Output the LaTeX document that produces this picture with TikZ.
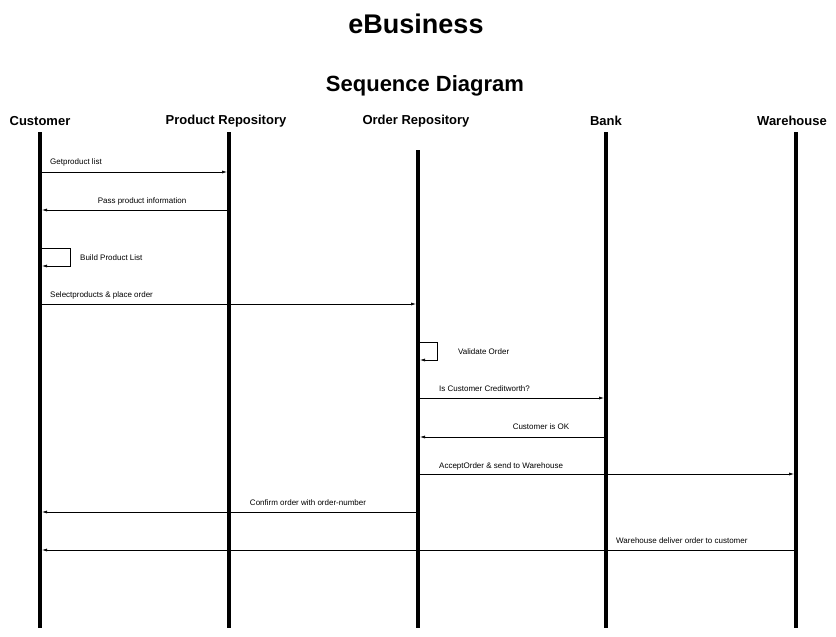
\documentclass[tikz,border=0pt]{standalone}
\usepackage{fontspec}
\setmainfont{Liberation Sans}
\usetikzlibrary{arrows.meta,positioning}
\begin{document}
\begin{tikzpicture}[x=1pt,y=-1pt,
  lifeline/.style={line width=4pt},
  msg/.style={-{Latex[length=5pt,width=3pt]}, line width=0.6pt},
  head/.style={font=\fontsize{13}{15}\selectfont\bfseries},
  lbl/.style={font=\fontsize{8}{9}\selectfont, inner sep=0pt}]
  \useasboundingbox (0,0) rectangle (836,637);
  \tikzstyle{every node}=[inner sep=1pt]

  % titles
  \node[font=\fontsize{27}{30}\selectfont\bfseries] (title) at (416,24) {eBusiness};
  \node[font=\fontsize{22}{26}\selectfont\bfseries] (sub) at (425,86) {Sequence Diagram};

  % objects
  \node[head] (cust) at (40,121) {Customer};
  \node[head] (prod) at (226,121) {Product Repository};
  \node[head] (ord) at (416,121) {Order Repository};
  \node[head] (bank) at (606,121) {Bank};
  \node[head] (ware) at (792,121) {Warehouse};

  % lifelines
  \draw[lifeline] (40,132) -- (40,628);
  \draw[lifeline] (229,132) -- (229,628);
  \draw[lifeline] (418,150) -- (418,628);
  \draw[lifeline] (606,132) -- (606,628);
  \draw[lifeline] (796,132) -- (796,628);

  % messages
  \coordinate (c1) at (42,172); \coordinate (p1) at (227,172);
  \draw[msg] (c1) -- (p1);
  \node[lbl, anchor=west] at (50,162) {Getproduct list};

  \coordinate (p2) at (227,210); \coordinate (c2) at (42,210);
  \draw[msg] (p2) -- (c2);
  \node[lbl] at (142,201) {Pass product information};

  \coordinate (c3) at (42,248); \coordinate (c3b) at (42,266);
  \draw[msg] (c3) -- (70,248) -- (70,266) -- (c3b);
  \node[lbl, anchor=west] at (80,258) {Build Product List};

  \coordinate (c4) at (42,304); \coordinate (o4) at (416,304);
  \draw[msg] (c4) -- (o4);
  \node[lbl, anchor=west] at (50,295) {Selectproducts \& place order};

  \coordinate (o5) at (420,342); \coordinate (o5b) at (420,360);
  \draw[msg] (o5) -- (437,342) -- (437,360) -- (o5b);
  \node[lbl, anchor=west] at (458,352) {Validate Order};

  \coordinate (o6) at (420,398); \coordinate (b6) at (604,398);
  \draw[msg] (o6) -- (b6);
  \node[lbl, anchor=west] at (439,389) {Is Customer Creditworth?};

  \coordinate (b7) at (604,437); \coordinate (o7) at (420,437);
  \draw[msg] (b7) -- (o7);
  \node[lbl] at (541,427) {Customer is OK};

  \coordinate (o8) at (420,474); \coordinate (w8) at (794,474);
  \draw[msg] (o8) -- (w8);
  \node[lbl, anchor=west] at (439,466) {AcceptOrder \& send to Warehouse};

  \coordinate (o9) at (416,512); \coordinate (c9) at (42,512);
  \draw[msg] (o9) -- (c9);
  \node[lbl] at (308,503) {Confirm order with order-number};

  \coordinate (w10) at (794,550); \coordinate (c10) at (42,550);
  \draw[msg] (w10) -- (c10);
  \node[lbl, anchor=west] at (616,541) {Warehouse deliver order to customer};
\end{tikzpicture}
\end{document}
